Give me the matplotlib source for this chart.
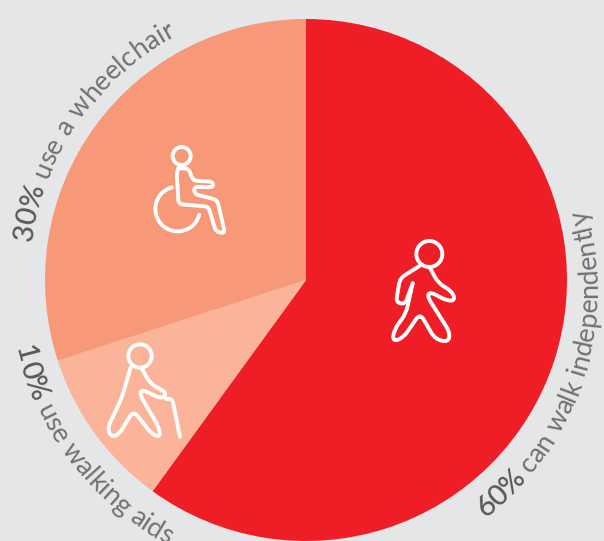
import numpy as np
import matplotlib
matplotlib.use('Agg')
import matplotlib.pyplot as plt
from matplotlib.font_manager import FontProperties, findfont, get_font
from matplotlib.ft2font import LoadFlags
from matplotlib.path import Path
from matplotlib.patches import Circle, PathPatch, Arc

W, H = 604, 541

shares = [60, 10, 30]
slice_colors = ['#EF1E26', '#FBB49A', '#F79878']
pct_labels = ['60%', '10%', '30%']
desc_labels = [' can walk independently', ' use walking aids', ' use a wheelchair']
BG = '#E4E6E8'
TEXT = '#58595B'
TEXT_LIGHT = '#707274'

CX, CY, R = 306, 280, 261
DPI = 100


def py(y):
    # picture y (down) to axes y (up)
    return H - y


def advance(ch, prop):
    font = get_font(findfont(prop))
    font.set_size(prop.get_size_in_points(), DPI)
    return font.load_char(ord(ch), flags=LoadFlags.NO_HINTING).linearHoriAdvance / 65536


def curved(ax, bold, light, centre, theta0, radius, size, tops_out):
    """write text along a circle, theta in degrees clockwise from the top"""
    p_bold = FontProperties(family='Lato', weight='medium', size=size + 1.5)
    p_light = FontProperties(family='Lato', weight='normal', size=size)
    theta = theta0
    step = 1 if tops_out else -1
    for text, prop, color in ((bold, p_bold, TEXT), (light, p_light, TEXT_LIGHT)):
        for ch in text:
            w = advance(ch, prop)
            mid = theta + step * np.degrees(w / 2 / radius)
            t = np.radians(mid)
            x = centre[0] + radius * np.sin(t)
            y = centre[1] - radius * np.cos(t)
            rot = -mid if tops_out else 180 - mid
            ax.text(x, py(y), ch, fontproperties=prop, color=color, rotation=rot,
                    rotation_mode='anchor', ha='center', va='baseline')
            theta += step * np.degrees(w / radius)


def rounded(pts, r):
    """open polyline with its inner corners rounded"""
    pts = [np.array(p, float) for p in pts]
    verts = [pts[0]]
    codes = [Path.MOVETO]
    for i in range(1, len(pts) - 1):
        a, b, c = pts[i - 1], pts[i], pts[i + 1]
        ra = min(r, np.linalg.norm(a - b) / 2)
        rc = min(r, np.linalg.norm(c - b) / 2)
        verts += [b + (a - b) / np.linalg.norm(a - b) * ra, b, b + (c - b) / np.linalg.norm(c - b) * rc]
        codes += [Path.LINETO, Path.CURVE3, Path.CURVE3]
    verts.append(pts[-1])
    codes.append(Path.LINETO)
    return Path(verts, codes)


def icon_line(ax, pts, ox, oy, r=4, lw=2.8):
    # pts are read at 3x zoom of the picture
    pts = [(ox + x / 3, py(oy + y / 3)) for x, y in pts]
    ax.add_patch(PathPatch(rounded(pts, r), fill=False, ec='white', lw=lw,
                           capstyle='round', joinstyle='round'))


def icon_head(ax, x, y, r, ox, oy, lw=2.8):
    ax.add_patch(Circle((ox + x / 3, py(oy + y / 3)), r / 3, fill=False, ec='white', lw=lw))


def walker(ax):
    ox, oy = 370, 225
    icon_head(ax, 178, 87, 39, ox, oy)
    icon_line(ax, [(148, 123), (90, 160), (78, 232), (105, 238), (128, 175)], ox, oy, r=5)
    icon_line(ax, [(178, 125), (205, 175), (245, 198), (256, 225), (232, 228), (180, 200), (172, 215),
                   (240, 322), (235, 352), (195, 342), (150, 265), (100, 338), (68, 350), (72, 315),
                   (108, 265), (128, 175)], ox, oy, r=7)


def wheelchair(ax):
    ox, oy = 130, 130
    icon_head(ax, 155, 78, 27, ox, oy)
    icon_line(ax, [(145, 115), (140, 130), (146, 222), (235, 230), (258, 305), (285, 310), (262, 210),
                   (193, 192), (193, 170), (250, 172), (248, 155), (190, 152), (175, 115), (145, 115)], ox, oy)
    ax.add_patch(Arc((ox + 143 / 3, py(oy + 237 / 3)), 2 * 67 / 3, 2 * 67 / 3, theta1=105, theta2=345,
                     ec='white', lw=2.8, capstyle='round'))


def cane_walker(ax):
    ox, oy = 90, 330
    icon_head(ax, 150, 78, 35, ox, oy)
    icon_line(ax, [(122, 112), (95, 205), (52, 295), (65, 322), (88, 312), (130, 242), (188, 315),
                   (212, 320), (205, 288), (150, 195), (155, 178), (215, 207), (232, 190), (180, 160),
                   (155, 115)], ox, oy, r=7)
    icon_line(ax, [(228, 207), (247, 207), (270, 320)], ox, oy, r=4)


fig = plt.figure(figsize=(W / DPI, H / DPI), dpi=DPI, facecolor=BG)
ax = fig.add_axes([0, 0, 1, 1])

ax.pie(shares, colors=slice_colors, startangle=90, counterclock=False,
       center=(CX, py(CY)), radius=R, wedgeprops={'linewidth': 0})
ax.set_xlim(0, W)
ax.set_ylim(0, H)
ax.set_aspect('equal')
ax.axis('off')

walker(ax)
wheelchair(ax)
cane_walker(ax)

curved(ax, pct_labels[0], desc_labels[0], (309.5, 290), 142.4, 288, 19.5, False)
curved(ax, pct_labels[1], desc_labels[1], (CX, CY), 256.8, 299, 19.5, False)
curved(ax, pct_labels[2], desc_labels[2], (CX, CY), 277.8, 277, 19.5, True)

fig.savefig('out.png', dpi=DPI, facecolor=BG)
